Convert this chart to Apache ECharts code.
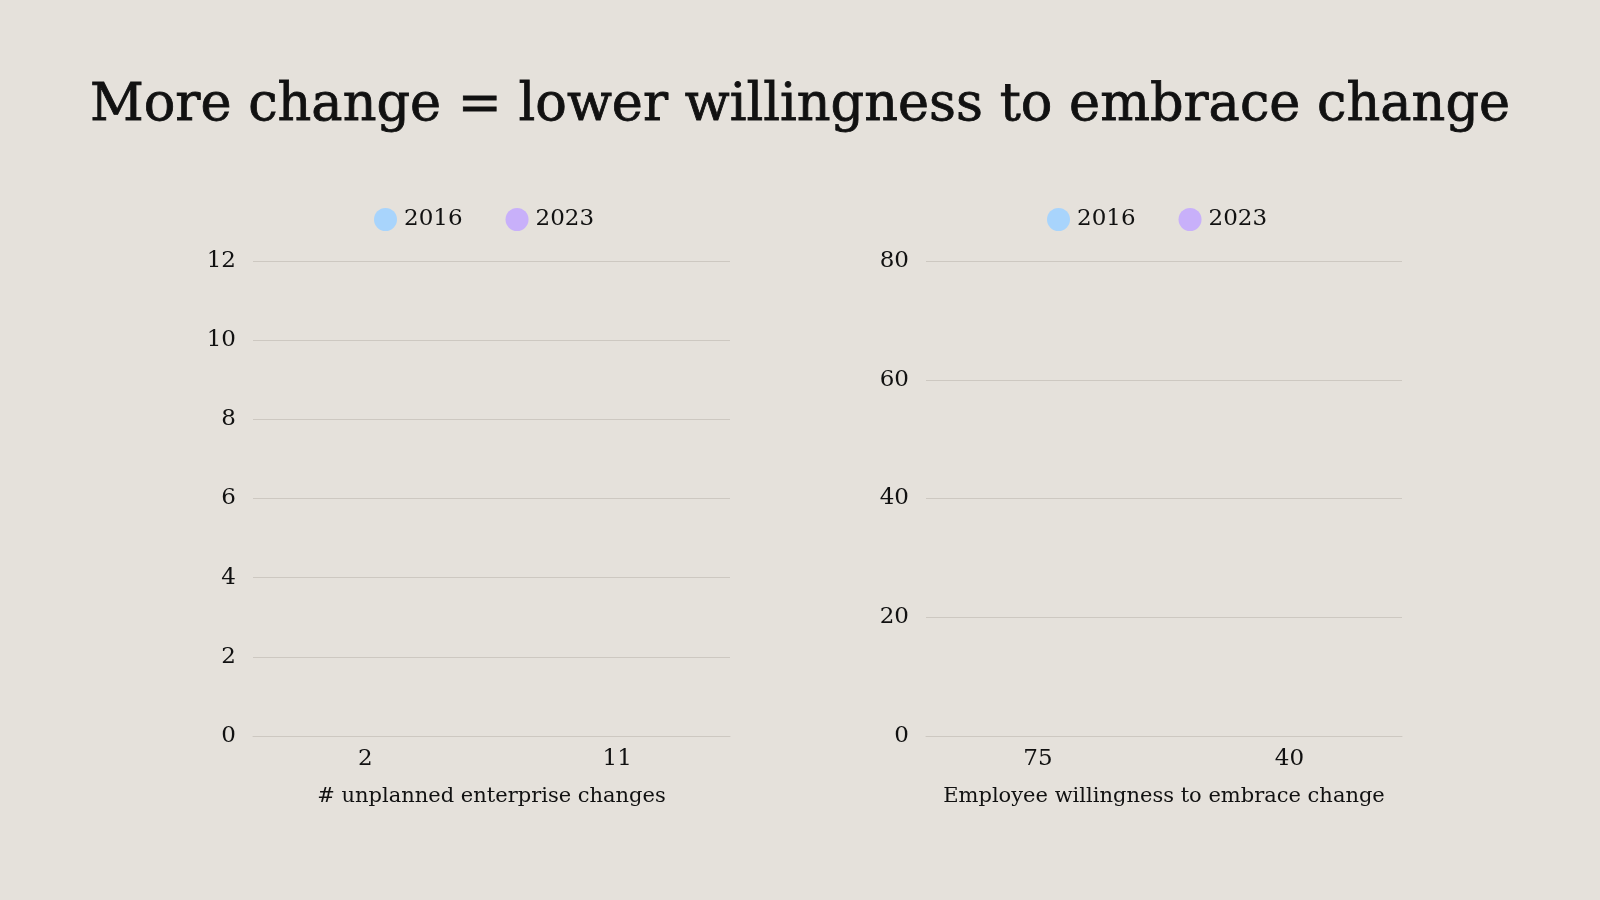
<!DOCTYPE html>
<html>
<head>
<meta charset="utf-8">
<script src="https://cdn.jsdelivr.net/npm/echarts@6/dist/echarts.min.js"></script>
<style>
html,body{margin:0;padding:0;background:#e5e1db;}
#c{width:1600px;height:900px;}
</style>
</head>
<body>
<div id="c"></div>
<script>
var titleText = 'More change = lower willingness to embrace change';
var seriesNames = ['2016', '2023'];
var leftCategories = ['2', '11'];
var rightCategories = ['75', '40'];
var leftAxisName = '# unplanned enterprise changes';
var rightAxisName = 'Employee willingness to embrace change';
// bar heights as visible in the picture (bars not yet drawn)
var left2016 = [0, null];
var left2023 = [null, 0];
var right2016 = [0, null];
var right2023 = [null, 0];
var leftTicks = {min: 0, max: 12, interval: 2};
var rightTicks = {min: 0, max: 80, interval: 20};

var colors = ['#a8d4fc', '#c8b0fa'];
var font = '"DejaVu Serif", serif';
var ink = '#111111';

function xAxis(idx, cats, name) {
  return {
    type: 'category', gridIndex: idx, data: cats,
    name: name, nameLocation: 'middle', nameGap: 50,
    nameTextStyle: {fontFamily: font, fontSize: 21, color: ink},
    axisLine: {show: true, lineStyle: {color: '#cdc8c1'}},
    axisTick: {show: false},
    axisLabel: {
      fontFamily: font, fontSize: 23, color: ink, margin: 12,
      formatter: function (v, i) { return i === 0 ? '{a|' + v + '}' : '{b|' + v + '}'; },
      rich: {
        a: {fontFamily: font, fontSize: 23, color: ink, padding: [0, 14, 0, 0]},
        b: {fontFamily: font, fontSize: 23, color: ink, padding: [0, 0, 0, 13]}
      }
    }
  };
}
function yAxis(idx, t) {
  return {
    type: 'value', gridIndex: idx, min: t.min, max: t.max, interval: t.interval,
    axisLine: {show: false}, axisTick: {show: false},
    splitLine: {lineStyle: {color: '#cdc8c1', width: 1}},
    axisLabel: {fontFamily: font, fontSize: 23, color: ink, margin: 17}
  };
}
function bar(name, x, data, c) {
  return {
    type: 'bar', name: name, xAxisIndex: x, yAxisIndex: x, data: data,
    barGap: '-100%', barWidth: '60%', itemStyle: {color: c}, animation: false
  };
}
var chart = echarts.init(document.getElementById('c'));
chart.setOption({
  backgroundColor: '#e5e1db',
  color: colors,
  title: {
    text: titleText, left: 'center', top: 75,
    textStyle: {fontFamily: font, fontSize: 52.5, fontWeight: 'normal', color: ink,
                textBorderColor: ink, textBorderWidth: 0.8}
  },
  legend: [
    {data: seriesNames, left: 369, top: 203, icon: 'circle', itemWidth: 23, itemHeight: 23, itemGap: 43,
     textStyle: {fontFamily: font, fontSize: 23, color: ink, padding: [0, 0, 0, 2]}},
    {data: seriesNames, left: 1042, top: 203, icon: 'circle', itemWidth: 23, itemHeight: 23, itemGap: 43,
     textStyle: {fontFamily: font, fontSize: 23, color: ink, padding: [0, 0, 0, 2]}}
  ],
  grid: [
    {left: 253, width: 477, top: 261, height: 475},
    {left: 926, width: 476, top: 261, height: 475}
  ],
  xAxis: [xAxis(0, leftCategories, leftAxisName), xAxis(1, rightCategories, rightAxisName)],
  yAxis: [yAxis(0, leftTicks), yAxis(1, rightTicks)],
  series: [
    bar(seriesNames[0], 0, left2016, colors[0]),
    bar(seriesNames[1], 0, left2023, colors[1]),
    bar(seriesNames[0], 1, right2016, colors[0]),
    bar(seriesNames[1], 1, right2023, colors[1])
  ]
});
</script>
</body>
</html>
